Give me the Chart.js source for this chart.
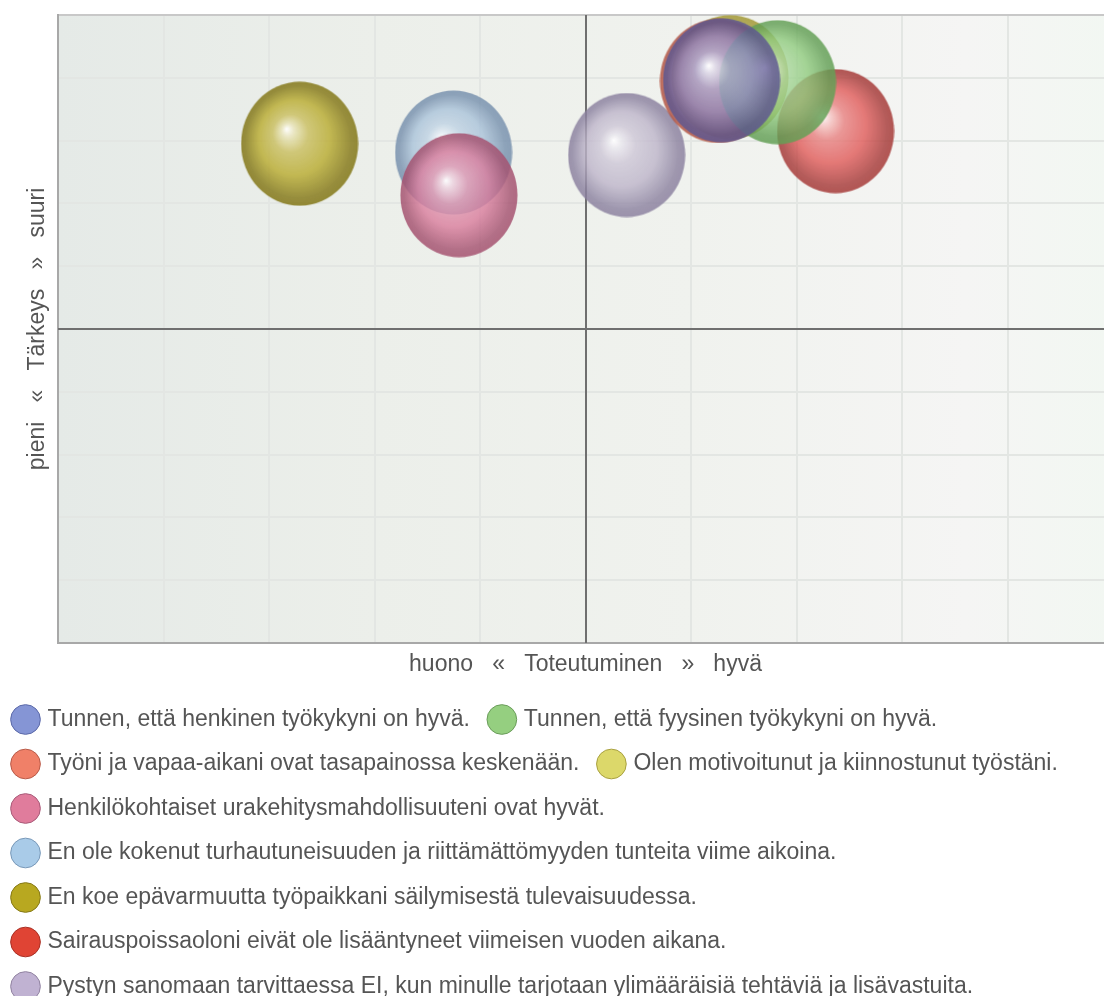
<!DOCTYPE html>
<html lang="fi">
<head>
<meta charset="utf-8">
<title>Työkyky – nelikenttä</title>
<script src="https://cdn.jsdelivr.net/npm/chart.js@4/dist/chart.umd.min.js"></script>
<style>
  html, body { margin: 0; padding: 0; background: #fff; overflow: hidden; }
  #nelikentta { display: block; }
</style>
</head>
<body>
<canvas id="nelikentta" width="1130" height="1008"></canvas>
<script>
// väittämät legendan järjestyksessä
const vaittamat = [
  'Tunnen, että henkinen työkykyni on hyvä.',
  'Tunnen, että fyysinen työkykyni on hyvä.',
  'Työni ja vapaa-aikani ovat tasapainossa keskenään.',
  'Olen motivoitunut ja kiinnostunut työstäni.',
  'Henkilökohtaiset urakehitysmahdollisuuteni ovat hyvät.',
  'En ole kokenut turhautuneisuuden ja riittämättömyyden tunteita viime aikoina.',
  'En koe epävarmuutta työpaikkani säilymisestä tulevaisuudessa.',
  'Sairauspoissaoloni eivät ole lisääntyneet viimeisen vuoden aikana.',
  'Pystyn sanomaan tarvittaessa EI, kun minulle tarjotaan ylimääräisiä tehtäviä ja lisävastuita.'
];

// toteutuminen (x) ja tärkeys (y), asteikko 0–10
const toteutuminen = [6.29, 6.82, 6.26, 6.37, 3.80, 3.75, 2.29, 7.37, 5.39];
const tarkeys      = [8.96, 8.93, 8.95, 9.01, 7.13, 7.81, 7.95, 8.15, 7.77];

// nelikentän jakoviivat kulkevat asteikon keskeltä
const asteikko = { min: 0, max: 10, keskikohta: 5 };

const FONTTI = "'Liberation Sans', Arial, sans-serif";
const TEKSTI = '#555555';

// kuplien värit: [perusväri, reunaväri]
const kuplaVarit = [
  ['#8a86bd', '#5e5890'],
  ['#8fcb7e', '#64a056'],
  ['#e87a68', '#b35544'],
  ['#d8ce5e', '#a29834'],
  ['#d97c9c', '#a55270'],
  ['#a9c3da', '#7891ae'],
  ['#b8aa2c', '#837716'],
  ['#e05a58', '#a63a38'],
  ['#bdb4c9', '#8c82a0']
];

// legendan pallot
const legendaTaytto = ['#8595d5', '#95cf80', '#f08068', '#dcd86a', '#e07c9c', '#a9cbe8', '#b8a820', '#e04434', '#c0b2d2'];
const legendaReuna  = ['#5a68a8', '#6a9c5a', '#b85a48', '#a8a040', '#a85a78', '#7898b8', '#857815', '#a83025', '#9082a0'];

function rgba(hex, a) {
  const n = parseInt(hex.slice(1), 16);
  return 'rgba(' + (n >> 16) + ',' + ((n >> 8) & 255) + ',' + (n & 255) + ',' + a + ')';
}

function vaalenna(hex, t) {
  const n = parseInt(hex.slice(1), 16);
  const c = [n >> 16, (n >> 8) & 255, n & 255].map(v => Math.round(v + (255 - v) * t));
  return '#' + c.map(v => v.toString(16).padStart(2, '0')).join('');
}

// lasimainen kupla valmiiksi omalle canvakselle, käytetään pointStylenä
function kupla(vari, reuna) {
  const w = 118, h = 125, r = w / 2;
  const c = document.createElement('canvas');
  c.width = w;
  c.height = h;
  const g = c.getContext('2d');
  g.scale(1, h / w);
  const grad = g.createRadialGradient(r - 13, r - 14, 0, r, r, r);
  grad.addColorStop(0, 'rgba(255,255,255,0.95)');
  grad.addColorStop(0.1, rgba(vaalenna(vari, 0.7), 0.88));
  grad.addColorStop(0.3, rgba(vaalenna(vari, 0.25), 0.82));
  grad.addColorStop(0.6, rgba(vari, 0.8));
  grad.addColorStop(0.9, rgba(reuna, 0.82));
  grad.addColorStop(1, rgba(reuna, 0.86));
  g.fillStyle = grad;
  g.beginPath();
  g.arc(r, r, r - 0.5, 0, Math.PI * 2);
  g.fill();
  return c;
}

const datasets = vaittamat.map((teksti, i) => ({
  label: teksti,
  data: [{ x: toteutuminen[i], y: tarkeys[i], r: 60 }],
  pointStyle: kupla(kuplaVarit[i][0], kuplaVarit[i][1]),
  backgroundColor: kuplaVarit[i][0],
  borderWidth: 0
}));

// taustan liukuväri piirtoalueelle
const taustaPlugin = {
  id: 'tausta',
  beforeDraw(chart) {
    const { ctx, chartArea: a } = chart;
    const g = ctx.createLinearGradient(a.left, 0, a.right, 0);
    g.addColorStop(0, '#e5eae7');
    g.addColorStop(0.3, '#ecefea');
    g.addColorStop(0.6, '#f0f2ee');
    g.addColorStop(0.86, '#f5f5f4');
    g.addColorStop(1, '#f2f7f2');
    ctx.save();
    ctx.fillStyle = g;
    ctx.fillRect(a.left, a.top, a.right - a.left, a.bottom - a.top);
    ctx.restore();
  }
};

// jakoviivat ruudukon päälle, kuplien alle
const jakoviivaPlugin = {
  id: 'jakoviivat',
  beforeDatasetsDraw(chart) {
    const { ctx, chartArea: a, scales } = chart;
    const px = Math.round(scales.x.getPixelForValue(asteikko.keskikohta));
    const py = Math.round(scales.y.getPixelForValue(asteikko.keskikohta));
    ctx.save();
    ctx.strokeStyle = '#6f6f6f';
    ctx.lineWidth = 2;
    ctx.beginPath();
    ctx.moveTo(px, a.top);
    ctx.lineTo(px, a.bottom);
    ctx.moveTo(a.left, py);
    ctx.lineTo(a.right, py);
    ctx.stroke();
    ctx.restore();
  }
};

function ruudukko(ylareuna) {
  return {
    drawTicks: false,
    color: c => (ylareuna && c.tick.value === asteikko.max) ? '#c8c8c8' : '#e3e6e3',
    lineWidth: 2
  };
}

new Chart(document.getElementById('nelikentta'), {
  type: 'bubble',
  data: { datasets: datasets },
  plugins: [taustaPlugin, jakoviivaPlugin],
  options: {
    responsive: false,
    animation: false,
    events: [],
    layout: {
      autoPadding: false,
      padding: { left: -6.5, right: 17, top: 15, bottom: 0 }
    },
    scales: {
      x: {
        type: 'linear',
        min: asteikko.min,
        max: asteikko.max,
        ticks: { display: false, stepSize: 1 },
        grid: ruudukko(false),
        border: { color: '#a8a8a8', width: 2 },
        title: {
          display: true,
          text: 'huono   «   Toteutuminen   »   hyvä',
          color: TEKSTI,
          font: { family: FONTTI, size: 23 },
          padding: { top: 8.2, bottom: 7.7 }
        }
      },
      y: {
        type: 'linear',
        min: asteikko.min,
        max: asteikko.max,
        ticks: { display: false, stepSize: 1 },
        grid: ruudukko(true),
        border: { color: '#a8a8a8', width: 2 },
        title: {
          display: true,
          text: 'pieni   «   Tärkeys   »   suuri',
          color: TEKSTI,
          font: { family: FONTTI, size: 23 },
          padding: { top: 30.7, bottom: 6.2 }
        }
      }
    },
    plugins: {
      tooltip: { enabled: false },
      legend: {
        position: 'bottom',
        align: 'start',
        labels: {
          usePointStyle: true,
          boxWidth: 21,
          boxHeight: 21,
          padding: 21.5,
          color: TEKSTI,
          font: { family: FONTTI, size: 23 },
          generateLabels: function(chart) {
            return chart.data.datasets.map((ds, i) => ({
              text: ds.label,
              fillStyle: legendaTaytto[i],
              strokeStyle: legendaReuna[i],
              fontColor: TEKSTI,
              lineWidth: 1,
              pointStyle: 'circle',
              hidden: false,
              datasetIndex: i
            }));
          }
        }
      }
    }
  }
});
</script>
</body>
</html>
